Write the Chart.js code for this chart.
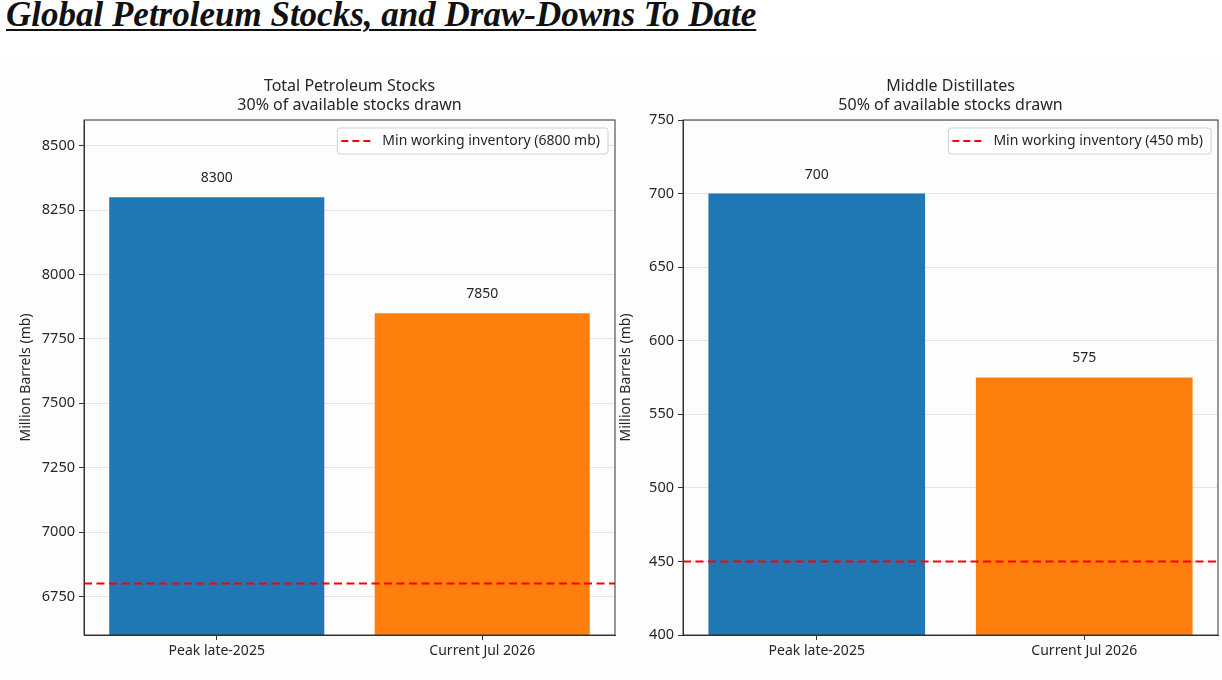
<!DOCTYPE html>
<html>
<head>
<meta charset="utf-8">
<script src="https://cdn.jsdelivr.net/npm/chart.js@4.4.1/dist/chart.umd.min.js"></script>
<style>
  body { margin: 0; background: #fff; width: 1222px; height: 680px; position: relative; overflow: hidden; }
  #titulo {
    position: absolute; left: 6px; top: -5px; margin: 0;
    font-family: "Liberation Serif", serif; font-weight: bold; font-style: italic;
    font-size: 35px; color: #111; text-decoration: underline; text-underline-offset: 3px;
    text-decoration-thickness: 2px; white-space: nowrap;
  }
  .fundo { position: absolute; left: 0; top: 62px; width: 1222px; height: 618px; background: #fdfdfd; }
  canvas { position: absolute; top: 60px; }
  #graficoTotal { left: 0; }
  #graficoDestilados { left: 600px; }
</style>
</head>
<body>
<div class="fundo"></div>
<h1 id="titulo">Global Petroleum Stocks, and Draw-Downs To Date</h1>
<canvas id="graficoTotal" width="620" height="620"></canvas>
<canvas id="graficoDestilados" width="622" height="620"></canvas>
<script>
const categorias = ['Peak late-2025', 'Current Jul 2026'];
const estoquesTotais = [8300, 7850];
const destilados = [700, 575];
const coresBarras = ['#1f77b4', '#ff7f0e'];

const minimoTotal = 6800;
const minimoDestilados = 450;

const titulosTotal = ['Total Petroleum Stocks', '30% of available stocks drawn'];
const titulosDestilados = ['Middle Distillates', '50% of available stocks drawn'];

const ticksTotal = [6750, 7000, 7250, 7500, 7750, 8000, 8250, 8500];
const ticksDestilados = [400, 450, 500, 550, 600, 650, 700, 750];

const FONTE = '"Noto Sans", sans-serif';
const COR_TEXTO = '#262626';

// titulos, valores, linha de minimo, legenda e moldura
const extras = {
  id: 'extras',
  afterDatasetsDraw(chart, args, opts) {
    const ctx = chart.ctx;
    const area = chart.chartArea;
    const y = chart.scales.y;

    // valores em cima das barras
    ctx.save();
    ctx.fillStyle = COR_TEXTO;
    ctx.font = '14px ' + FONTE;
    ctx.textAlign = 'center';
    ctx.textBaseline = 'middle';
    chart.getDatasetMeta(0).data.forEach((bar, i) => {
      ctx.fillText(String(chart.data.datasets[0].data[i]), bar.x, bar.y - 19);
    });
    ctx.restore();

    // linha de estoque minimo
    const yMin = y.getPixelForValue(opts.minimo);
    ctx.save();
    ctx.strokeStyle = '#ff0000';
    ctx.lineWidth = 2;
    ctx.setLineDash([8, 4.5]);
    ctx.beginPath();
    ctx.moveTo(area.left, yMin);
    ctx.lineTo(area.right, yMin);
    ctx.stroke();
    ctx.restore();
  },
  afterDraw(chart, args, opts) {
    const ctx = chart.ctx;
    const area = chart.chartArea;
    const meio = (area.left + area.right) / 2;

    // moldura
    ctx.save();
    ctx.strokeStyle = '#333';
    ctx.lineWidth = 1;
    ctx.strokeRect(area.left, area.top, area.right - area.left, area.bottom - area.top);
    ctx.restore();

    // titulos
    ctx.save();
    ctx.fillStyle = COR_TEXTO;
    ctx.font = '16px ' + FONTE;
    ctx.textAlign = 'center';
    ctx.textBaseline = 'middle';
    ctx.fillText(opts.titulos[0], meio, 26);
    ctx.fillText(opts.titulos[1], meio, 45);
    ctx.restore();

    // legenda
    const texto = 'Min working inventory (' + opts.minimo + ' mb)';
    ctx.save();
    ctx.font = '14px ' + FONTE;
    const larg = ctx.measureText(texto).width + 53;
    const alt = 26;
    const x0 = area.right - 7 - larg;
    const y0 = area.top + 8;
    ctx.fillStyle = 'rgba(255,255,255,0.85)';
    ctx.strokeStyle = '#d0d0d0';
    ctx.lineWidth = 1;
    ctx.beginPath();
    ctx.roundRect(x0, y0, larg, alt, 3);
    ctx.fill();
    ctx.stroke();
    ctx.strokeStyle = '#ff0000';
    ctx.lineWidth = 2;
    ctx.setLineDash([7, 4]);
    ctx.beginPath();
    ctx.moveTo(x0 + 4, y0 + alt / 2);
    ctx.lineTo(x0 + 33, y0 + alt / 2);
    ctx.stroke();
    ctx.fillStyle = COR_TEXTO;
    ctx.textBaseline = 'middle';
    ctx.textAlign = 'left';
    ctx.fillText(texto, x0 + 45, y0 + alt / 2);
    ctx.restore();
  }
};

function CriarGrafico(id, valores, min, max, ticks, larguraEixo, padDireita, titulos, minimo) {
  return new Chart(document.getElementById(id), {
    type: 'bar',
    data: {
      labels: categorias,
      datasets: [{
        data: valores,
        backgroundColor: coresBarras,
        borderWidth: 0,
        barPercentage: 0.81,
        categoryPercentage: 1
      }]
    },
    options: {
      responsive: false,
      animation: false,
      layout: { padding: { left: 0, right: padDireita, top: 60, bottom: 0 } },
      plugins: {
        legend: { display: false },
        tooltip: { enabled: false },
        extras: { titulos, minimo }
      },
      scales: {
        x: {
          offset: true,
          grid: {
            offset: false,
            drawOnChartArea: false,
            drawTicks: true,
            tickLength: 5,
            tickColor: '#333'
          },
          border: { color: '#333', width: 1 },
          ticks: { color: COR_TEXTO, font: { family: FONTE, size: 14 }, padding: 3 },
          afterFit(scale) { scale.height = 45; }
        },
        y: {
          min, max,
          z: 1,
          grid: {
            color: 'rgba(176,176,176,0.3)',
            lineWidth: 1,
            tickLength: 5,
            tickColor: '#333'
          },
          border: { color: '#333', width: 1 },
          ticks: {
            color: COR_TEXTO,
            font: { family: FONTE, size: 14.5 },
            padding: 4,
            callback: v => String(v)
          },
          title: {
            display: true,
            text: 'Million Barrels (mb)',
            color: COR_TEXTO,
            font: { family: FONTE, size: 14 },
            padding: { top: 18, bottom: 4 }
          },
          afterBuildTicks(scale) { scale.ticks = ticks.map(v => ({ value: v })); },
          afterFit(scale) { scale.width = larguraEixo; }
        }
      }
    },
    plugins: [extras]
  });
}

CriarGrafico('graficoTotal', estoquesTotais, 6600, 8600, ticksTotal, 84, 5, titulosTotal, minimoTotal);
CriarGrafico('graficoDestilados', destilados, 400, 750, ticksDestilados, 83, 4, titulosDestilados, minimoDestilados);
</script>
</body>
</html>
